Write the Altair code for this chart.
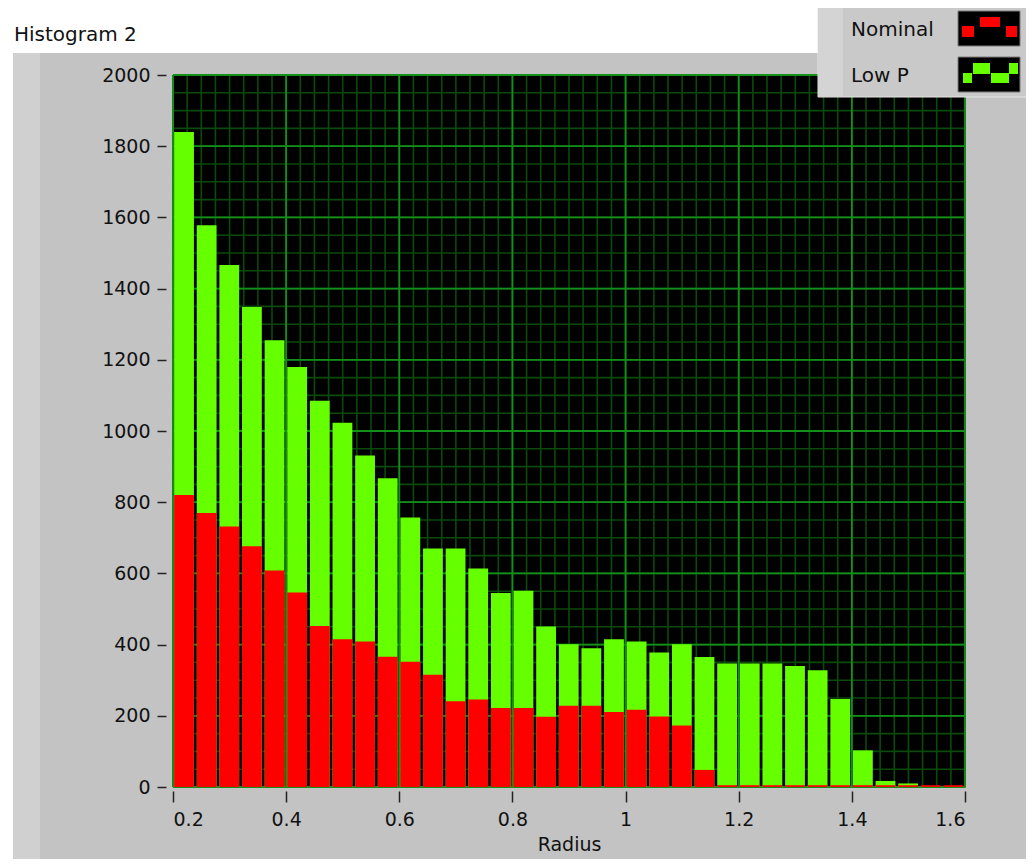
import altair as alt
import pandas as pd
import numpy as np

# ---- data ----
bin_start = [0.20, 0.24, 0.28, 0.32, 0.36, 0.40, 0.44, 0.48, 0.52, 0.56,
             0.60, 0.64, 0.68, 0.72, 0.76, 0.80, 0.84, 0.88, 0.92, 0.96,
             1.00, 1.04, 1.08, 1.12, 1.16, 1.20, 1.24, 1.28, 1.32, 1.36,
             1.40, 1.44, 1.48, 1.52, 1.56]
bin_width = 0.04
low_p = [1840, 1578, 1466, 1348, 1255, 1180, 1085, 1023, 931, 867,
         757, 670, 670, 614, 545, 551, 451, 401, 390, 415,
         409, 378, 401, 365, 347, 347, 347, 340, 328, 247,
         103, 17, 10, 0, 0]
nominal = [820, 770, 732, 676, 608, 546, 452, 415, 409, 366,
           352, 315, 241, 246, 222, 222, 197, 228, 228, 211,
           217, 198, 173, 48, 5, 5, 5, 5, 5, 5,
           5, 5, 5, 5, 5]
x_ticks = [0.2, 0.4, 0.6, 0.8, 1.0, 1.2, 1.4, 1.6]
y_ticks = [0, 200, 400, 600, 800, 1000, 1200, 1400, 1600, 1800, 2000]
series_names = ["Nominal", "Low P"]
series_colors = ["#ff0000", "#66ff00"]
chart_title = "Histogram 2"
x_title = "Radius"

# ---- styling ----
FONT = "DejaVu Sans"
W, H = 792, 712
PAD_L, PAD_T = 165, 67
TOTAL_W, TOTAL_H = 1018, 851
PANEL = "#c3c3c3"
MAJOR = "#12901a"
MINOR = "#0a4a0a"

df = pd.DataFrame({"start": bin_start, "low_p": low_p, "nominal": nominal})
one = pd.DataFrame({"a": [0]})

xs = alt.Scale(domain=[0.2, 1.6], nice=False, zero=False)
ys = alt.Scale(domain=[0, 2000], nice=False)

xaxis = alt.Axis(values=x_ticks, format="~g", grid=False, domain=False,
                 tickColor="#222", tickSize=11, tickWidth=1.5, offset=4,
                 labelPadding=8, labelFont=FONT, labelFontSize=19,
                 labelColor="#111", title=x_title, titleFont=FONT,
                 titleFontSize=19, titleFontWeight="normal",
                 titleColor="#111", titlePadding=6)
yaxis = alt.Axis(values=y_ticks, format="d", grid=False, domain=False,
                 tickColor="#222", tickSize=9, tickWidth=1.5, offset=7,
                 labelPadding=7, labelFont=FONT, labelFontSize=19,
                 labelColor="#111", title=None)

minor_x = pd.DataFrame({"v": np.round(np.arange(0.2, 1.6001, 0.025), 4)})
minor_y = pd.DataFrame({"v": np.arange(0, 2001, 50)})
major_x = pd.DataFrame({"v": x_ticks})
major_y = pd.DataFrame({"v": y_ticks})


def prect(x, x2, y, y2, color, stroke=None):
    kw = {}
    if stroke:
        kw = {"stroke": stroke, "strokeWidth": 1}
    return alt.Chart(one).mark_rect(color=color, **kw).encode(
        x=alt.value(x), x2=alt.value(x2), y=alt.value(y), y2=alt.value(y2))


decor = [
    prect(-200, 900, -90, -22, "#ffffff"),
    prect(-200, -160, -22, 800, "#ffffff"),
    prect(-160, -133, -22, 800, "#d0d0d0"),
]

grid = [
    alt.Chart(minor_x).mark_rule(color=MINOR, strokeWidth=1.6).encode(
        x=alt.X("v:Q", scale=xs, axis=xaxis)),
    alt.Chart(minor_y).mark_rule(color=MINOR, strokeWidth=1.6).encode(
        y=alt.Y("v:Q", scale=ys, axis=yaxis)),
    alt.Chart(major_x).mark_rule(color=MAJOR, strokeWidth=1.8).encode(
        x=alt.X("v:Q", scale=xs, axis=xaxis)),
    alt.Chart(major_y).mark_rule(color=MAJOR, strokeWidth=1.8).encode(
        y=alt.Y("v:Q", scale=ys, axis=yaxis)),
]

base = alt.Chart(df).transform_calculate(
    x0="datum.start + 0.002", x1=f"datum.start + {bin_width} - 0.003")

green = base.mark_rect(color=series_colors[1]).encode(
    x=alt.X("x0:Q", scale=xs, axis=xaxis), x2="x1:Q",
    y=alt.Y("low_p:Q", scale=ys, axis=yaxis), y2=alt.datum(0),
)
red = base.mark_rect(color=series_colors[0]).encode(
    x=alt.X("x0:Q", scale=xs, axis=xaxis), x2="x1:Q",
    y=alt.Y("nominal:Q", scale=ys, axis=yaxis), y2=alt.datum(0))

# legend (top-right box), pixel positions relative to plot origin
legend = [
    prect(645, 880, -68, 22, "#c9c9c9", stroke="#e4e4e4"),
    prect(645, 670, -68, 22, "#d4d4d4"),
    alt.Chart(one).mark_text(text=series_names[0], font=FONT, fontSize=20,
                             align="left", baseline="alphabetic", color="#111").encode(
        x=alt.value(678), y=alt.value(-39)),
    alt.Chart(one).mark_text(text=series_names[1], font=FONT, fontSize=20,
                             align="left", baseline="alphabetic", color="#111").encode(
        x=alt.value(678), y=alt.value(7)),
    prect(785, 847, -64, -29, "#000000", stroke="#7a7a7a"),
    prect(785, 847, -18, 17, "#000000", stroke="#7a7a7a"),
]
icon_red = [(789, 801, -49, -38), (807, 827, -58, -48), (833, 844, -49, -38)]
icon_green = [(790, 799, -2, 8), (800, 817, -12, -1), (818, 836, -2, 8), (836, 845, -12, -1)]
for (a, b, c, d) in icon_red:
    legend.append(prect(a, b, c, d, series_colors[0]))
for (a, b, c, d) in icon_green:
    legend.append(prect(a, b, c, d, series_colors[1]))

title = alt.Chart(one).mark_text(text=chart_title, font=FONT, fontSize=20,
                                 align="left", baseline="alphabetic", color="#111").encode(
    x=alt.value(-159), y=alt.value(-34))

chart = alt.layer(*decor, *grid, green, red, *legend, title).properties(
    width=W, height=H,
    autosize=alt.AutoSizeParams(type="none"),
    padding={"left": PAD_L, "top": PAD_T,
             "right": TOTAL_W - PAD_L - W, "bottom": TOTAL_H - PAD_T - H},
    background=PANEL,
).configure_view(fill="#000000", stroke="#6a6a6a", strokeWidth=1)

chart.save("out.html", embed_options={"renderer": "svg", "actions": False})
